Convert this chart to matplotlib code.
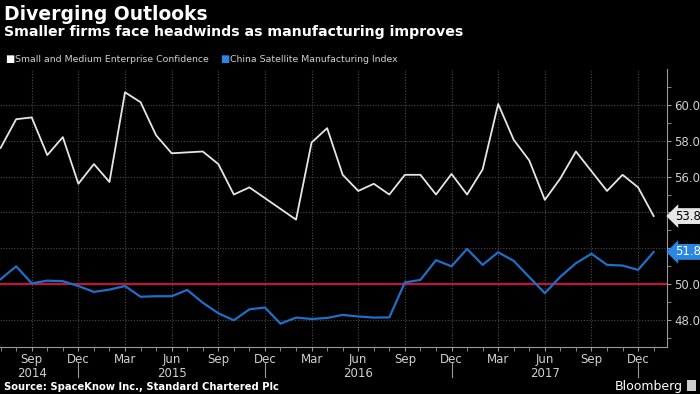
import matplotlib
matplotlib.use("Agg")
import matplotlib.pyplot as plt
import matplotlib.transforms as mtransforms
import numpy as np

# ---- data (monthly, Jul 2014 .. Jan 2018) ----
sme = [57.6, 59.2, 59.3, 57.2, 58.2, 55.6, 56.7, 55.7, 60.7, 60.15, 58.3, 57.3,
       57.35, 57.4, 56.7, 55.0, 55.4, 54.8, 54.2, 53.6, 57.9, 58.7, 56.1, 55.2,
       55.6, 55.0, 56.1, 56.1, 55.0, 56.15, 55.0, 56.4, 60.05, 58.05, 56.9, 54.7,
       55.9, 57.4, 56.3, 55.2, 56.1, 55.4, 53.8]
csmi = [50.28, 51.0, 50.05, 50.2, 50.17, 49.9, 49.57, 49.7, 49.9, 49.3, 49.33, 49.33,
        49.68, 48.97, 48.38, 47.99, 48.6, 48.7, 47.8, 48.14, 48.06, 48.12, 48.29, 48.2,
        48.14, 48.15, 50.1, 50.24, 51.34, 51.0, 51.97, 51.08, 51.78, 51.3, 50.4, 49.5,
        50.42, 51.17, 51.7, 51.08, 51.04, 50.8, 51.8]
tick_months = ["Sep", "Dec", "Mar", "Jun", "Sep", "Dec", "Mar", "Jun",
               "Sep", "Dec", "Mar", "Jun", "Sep", "Dec"]
tick_years = {0: "2014", 3: "2015", 7: "2016", 11: "2017"}
y_ticks = [48, 50, 52, 54, 56, 58, 60]
threshold = 50.0
series_names = ["Small and Medium Enterprise Confidence", "China Satellite Manufacturing Index"]

WHITE = "#e6e6e6"
BLUE = "#1f6fc9"
RED = "#c0143c"
GRID = "#4a4a4a"
AXC = "#9a9a9a"
TXT = "#d0d0d0"

x = np.arange(len(sme))

fig = plt.figure(figsize=(7, 3.94), dpi=100, facecolor="black")
ax = fig.add_axes([0.0, 0.1193, 0.9529, 0.7056])
ax.set_facecolor("black")

ax.axhline(threshold, color=RED, lw=1.6, zorder=2)
ax.plot(x, sme, color=WHITE, lw=1.3, zorder=3)
ax.plot(x, csmi, color=BLUE, lw=1.6, zorder=3)

ax.set_xlim(-0.04, 42.86)
ax.set_ylim(46.5, 62.0)

# x axis
major_x = np.arange(2, 42, 3)
labels = []
for k, m in enumerate(tick_months):
    labels.append(m + ("\n" + tick_years[k] if k in tick_years else ""))
ax.set_xticks(major_x)
ax.set_xticklabels(labels, linespacing=1.1)
ax.set_xticks(np.arange(0, 43), minor=True)
ax.tick_params(axis="x", which="both", direction="out", length=3, color=AXC,
               labelcolor=TXT, labelsize=8.5, pad=1)

# y axis on right (labels hidden behind the end-value tags are left blank)
ends = [sme[-1], csmi[-1]]
ax.yaxis.tick_right()
ax.set_yticks(y_ticks)
ax.set_yticklabels(["" if any(abs(v - e) < 0.9 for e in ends) else f"{v:.1f}" for v in y_ticks])
ax.set_yticks(np.arange(47, 62, 2), minor=True)
ax.tick_params(axis="y", which="both", direction="out", length=3, color=AXC,
               labelcolor=TXT, labelsize=8.5, pad=2)

ax.grid(True, which="major", color=GRID, lw=0.8, linestyle=(0, (1, 1.5)))
for s in ["left", "top"]:
    ax.spines[s].set_visible(False)
ax.spines["right"].set_color(AXC)
ax.spines["bottom"].set_color(AXC)

# year separators
trans = mtransforms.blended_transform_factory(ax.transData, ax.transAxes)
for xs in [5, 17, 29, 41]:
    ax.plot([xs, xs], [-0.058, -0.108], color=AXC, lw=0.8, transform=trans, clip_on=False)

# end value labels
ax.text(43.35, sme[-1], f"{sme[-1]:.1f}", color="black", fontsize=8.5, va="center", ha="left",
        zorder=10, clip_on=False,
        bbox=dict(boxstyle="larrow,pad=0.12", fc=WHITE, ec="none"))
ax.text(43.35, csmi[-1], f"{csmi[-1]:.1f}", color="white", fontsize=8.5, va="center", ha="left",
        zorder=10, clip_on=False,
        bbox=dict(boxstyle="larrow,pad=0.12", fc="#2a86e0", ec="none"))

# titles
fig.text(4/700, 1 - 5/394, "Diverging Outlooks", color="white", fontsize=13.5,
         weight="bold", va="top", ha="left")
fig.text(4/700, 1 - 25/394, "Smaller firms face headwinds as manufacturing improves",
         color="white", fontsize=10.2, weight="bold", va="top", ha="left")

# legend
fig.text(5/700, 1 - 62/394, "\u25A0", color="white", fontsize=7, va="baseline", ha="left")
fig.text(15/700, 1 - 62/394, series_names[0], color=TXT, fontsize=6.75, va="baseline", ha="left")
fig.text(220/700, 1 - 62/394, "\u25A0", color="#2a86e0", fontsize=7, va="baseline", ha="left")
fig.text(230/700, 1 - 62/394, series_names[1], color=TXT, fontsize=6.75, va="baseline", ha="left")

# footer
fig.text(4/700, 1 - 390/394, "Source: SpaceKnow Inc., Standard Chartered Plc", color="white",
         fontsize=7.2, weight="bold", va="baseline", ha="left")
fig.text(683/700, 1 - 390/394, "Bloomberg", color="white", fontsize=9, va="baseline", ha="right")
fig.patches.append(plt.Rectangle((687/700, 1 - 391/394), 9/700, 11/394, transform=fig.transFigure,
                                 fc="#cfcfcf", ec="none"))

fig.savefig("out.png", dpi=100, facecolor="black")
